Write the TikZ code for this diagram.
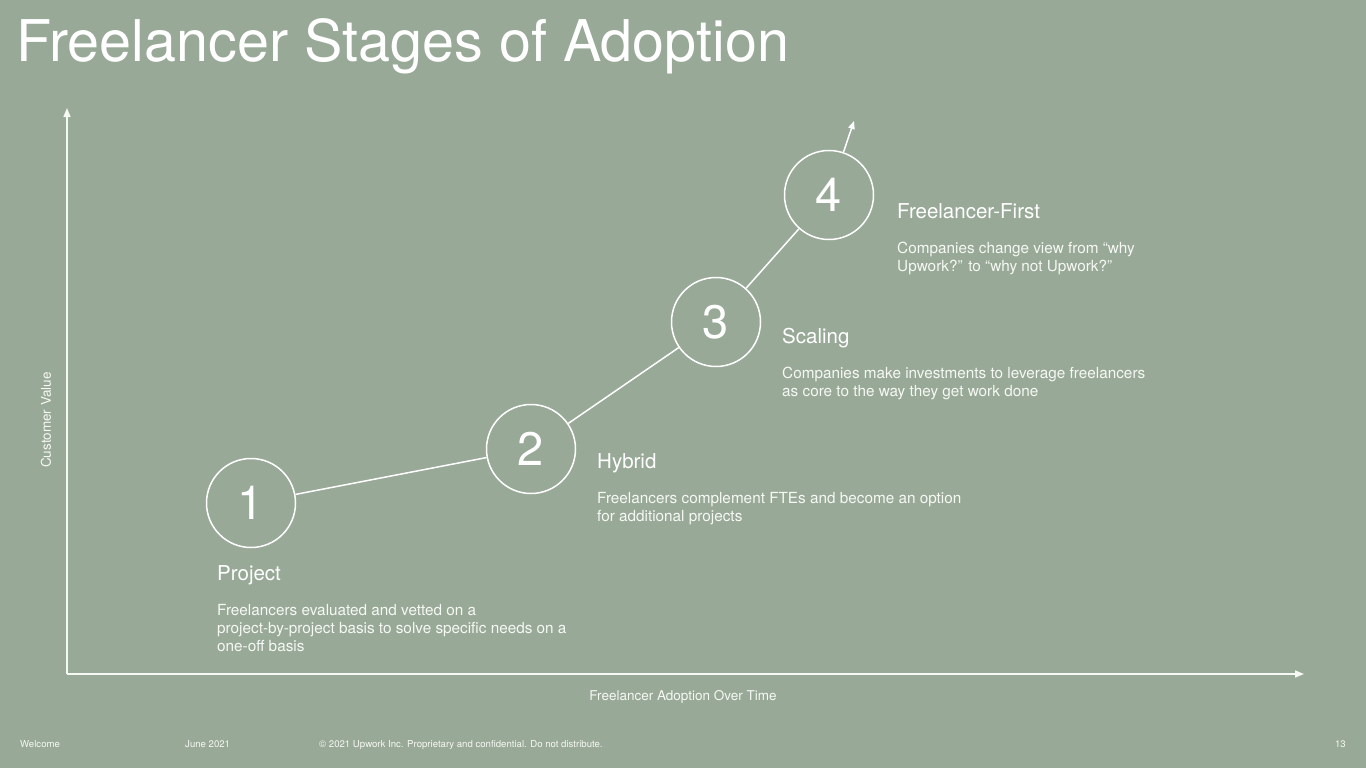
\documentclass[tikz,border=0pt]{standalone}
\usepackage{fontspec}
\setmainfont{TeX Gyre Heros}
\usetikzlibrary{arrows.meta}
\definecolor{bg}{RGB}{152,169,151}
\definecolor{soft}{RGB}{246,248,244}
\begin{document}
\begin{tikzpicture}[x=1pt,y=-1pt,
  stage/.style={circle,draw=white,line width=1.5pt,minimum size=89pt,inner sep=0pt,text=white,font=\fontsize{47}{47}\selectfont},
  conn/.style={draw=white,line width=1.5pt},
  axis/.style={draw=soft,line width=1.6pt,-{Triangle[length=9pt,width=7pt]}},
  head/.style={anchor=base west,inner sep=0pt,text=white,font=\fontsize{20.5}{24}\selectfont},
  body/.style={anchor=base west,inner sep=0pt,text=soft,font=\fontsize{15.3}{18}\selectfont},
  foot/.style={anchor=base west,inner sep=0pt,text=soft,font=\fontsize{9.6}{12}\selectfont},
  axlabel/.style={inner sep=0pt,text=soft,font=\fontsize{13.5}{16}\selectfont}]
\fill[bg] (0,0) rectangle (1366,768);
\useasboundingbox (0,0) rectangle (1366,768);
% title
\node[anchor=base west,inner sep=0pt,text=white,font=\fontsize{57.5}{60}\selectfont] (title) at (16,62) {Freelancer Stages of Adoption};
% axes
\coordinate (o) at (67,674);
\coordinate (ytop) at (67,108);
\coordinate (xend) at (1304,674);
\draw[axis] (o) -- (ytop);
\draw[axis] (o) -- (xend);
\node[axlabel,rotate=90] (ylab) at (46,420) {Customer Value};
\node[axlabel] (xlab) at (683,697) {Freelancer Adoption Over Time};
% stages
\node[stage] (s1) at (251,503) {1};
\node[stage] (s2) at (531,449) {2};
\node[stage] (s3) at (716,322) {3};
\node[stage] (s4) at (829,195) {4};
\coordinate (up) at (854,121);
\draw[conn] (s1) -- (s2);
\draw[conn] (s2) -- (s3);
\draw[conn] (s3) -- (s4);
\draw[conn,-{Triangle[length=8pt,width=6.5pt]}] (s4) -- (up);
% texts
\node[head] (h1) at (217,580) {Project};
\node[body] (b1a) at (217,615) {Freelancers evaluated and vetted on a};
\node[body] (b1b) at (217,633) {project-by-project basis to solve specific needs on a};
\node[body] (b1c) at (217,651) {one-off basis};
\node[head] (h2) at (597,468) {Hybrid};
\node[body] (b2a) at (597,503) {Freelancers complement FTEs and become an option};
\node[body] (b2b) at (597,521) {for additional projects};
\node[head] (h3) at (782,343) {Scaling};
\node[body] (b3a) at (782,378) {Companies make investments to leverage freelancers};
\node[body] (b3b) at (782,396) {as core to the way they get work done};
\node[head] (h4) at (897,218) {Freelancer-First};
\node[body] (b4a) at (897,253) {Companies change view from “why};
\node[body] (b4b) at (897,271) {Upwork?” to “why not Upwork?”};
% footer
\node[foot] (f1) at (20,747) {Welcome};
\node[foot] (f2) at (185,747) {June 2021};
\node[foot] (f3) at (319,747) {© 2021 Upwork Inc. Proprietary and confidential. Do not distribute.};
\node[foot,anchor=base east] (f4) at (1346,747) {13};
\end{tikzpicture}
\end{document}
